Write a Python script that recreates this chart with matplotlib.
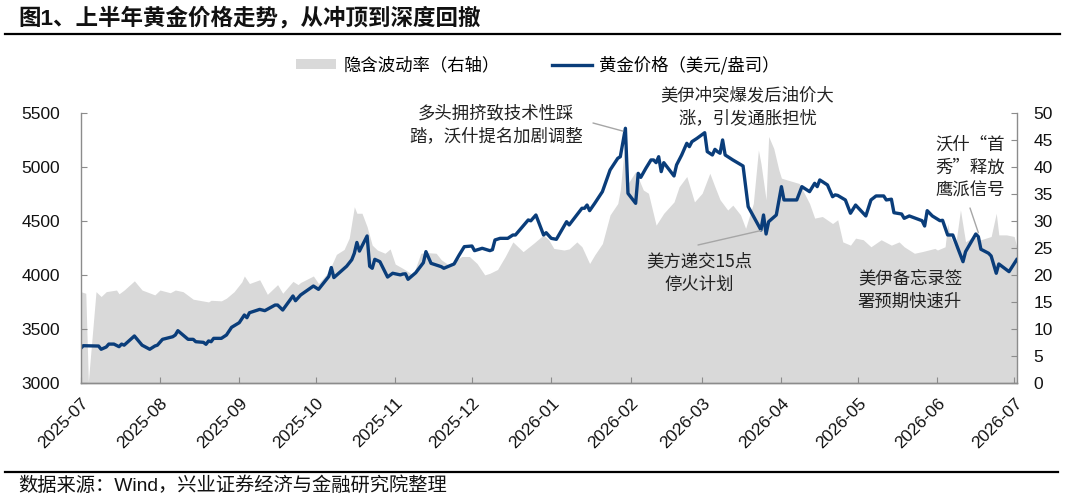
import matplotlib
matplotlib.use("Agg")
import matplotlib.pyplot as plt
import matplotlib.dates as mdates
from matplotlib.lines import Line2D
from matplotlib.patches import Patch
from matplotlib.font_manager import FontProperties
import pandas as pd

plt.rcParams['font.family'] = ['Liberation Sans', 'Noto Sans CJK SC', 'DejaVu Sans']

# 黄金价格（美元/盎司）
gold_dates = [
    "2025-07-01", "2025-07-02", "2025-07-08", "2025-07-09", "2025-07-11", "2025-07-12",
    "2025-07-14", "2025-07-16", "2025-07-17", "2025-07-18", "2025-07-22", "2025-07-25",
    "2025-07-28", "2025-07-30", "2025-07-31", "2025-08-02", "2025-08-06", "2025-08-07",
    "2025-08-08", "2025-08-12", "2025-08-14", "2025-08-15", "2025-08-18", "2025-08-19",
    "2025-08-20", "2025-08-21", "2025-08-22", "2025-08-25", "2025-08-27", "2025-08-29",
    "2025-09-01", "2025-09-03", "2025-09-04", "2025-09-05", "2025-09-09", "2025-09-11",
    "2025-09-15", "2025-09-16", "2025-09-18", "2025-09-22", "2025-09-23", "2025-09-25",
    "2025-09-30", "2025-10-02", "2025-10-06", "2025-10-07", "2025-10-08", "2025-10-13",
    "2025-10-15", "2025-10-16", "2025-10-17", "2025-10-18", "2025-10-21", "2025-10-22",
    "2025-10-23", "2025-10-24", "2025-10-26", "2025-10-29", "2025-10-31", "2025-11-03",
    "2025-11-04", "2025-11-05", "2025-11-06", "2025-11-08", "2025-11-09", "2025-11-12",
    "2025-11-13", "2025-11-15", "2025-11-19", "2025-11-20", "2025-11-24", "2025-11-26",
    "2025-11-28", "2025-12-01", "2025-12-02", "2025-12-05", "2025-12-08", "2025-12-09",
    "2025-12-10", "2025-12-12", "2025-12-15", "2025-12-17", "2025-12-18", "2025-12-23",
    "2025-12-24", "2025-12-26", "2025-12-29", "2025-12-30", "2026-01-01", "2026-01-03",
    "2026-01-07", "2026-01-08", "2026-01-10", "2026-01-13", "2026-01-14", "2026-01-15",
    "2026-01-16", "2026-01-18", "2026-01-21", "2026-01-24", "2026-01-27", "2026-01-28",
    "2026-01-30", "2026-01-31", "2026-02-03", "2026-02-04", "2026-02-05", "2026-02-07",
    "2026-02-09", "2026-02-10", "2026-02-11", "2026-02-12", "2026-02-13", "2026-02-14",
    "2026-02-18", "2026-02-19", "2026-02-21", "2026-02-23", "2026-02-24", "2026-02-25",
    "2026-02-27", "2026-03-02", "2026-03-03", "2026-03-05", "2026-03-06", "2026-03-07",
    "2026-03-08", "2026-03-09", "2026-03-10", "2026-03-13", "2026-03-17", "2026-03-19",
    "2026-03-21", "2026-03-24", "2026-03-25", "2026-03-26", "2026-03-27", "2026-03-30",
    "2026-04-01", "2026-04-02", "2026-04-07", "2026-04-09", "2026-04-12", "2026-04-14",
    "2026-04-15", "2026-04-16", "2026-04-19", "2026-04-21", "2026-04-22", "2026-04-23",
    "2026-04-26", "2026-04-28", "2026-04-30", "2026-05-04", "2026-05-06", "2026-05-08",
    "2026-05-11", "2026-05-12", "2026-05-14", "2026-05-15", "2026-05-18", "2026-05-19",
    "2026-05-21", "2026-05-26", "2026-05-27", "2026-05-28", "2026-05-30", "2026-06-02",
    "2026-06-03", "2026-06-05", "2026-06-07", "2026-06-09", "2026-06-11", "2026-06-12",
    "2026-06-16", "2026-06-17", "2026-06-18", "2026-06-21", "2026-06-22", "2026-06-24",
    "2026-06-25", "2026-06-29", "2026-07-02",
]
gold_price = [
    3320, 3345, 3342, 3312, 3333, 3360,
    3360, 3336, 3360, 3350, 3435, 3350,
    3312, 3342, 3350, 3404, 3428, 3444,
    3484, 3404, 3404, 3382, 3376, 3358,
    3389, 3382, 3413, 3413, 3444, 3515,
    3558, 3629, 3604, 3650, 3681, 3669,
    3721, 3721, 3675, 3805, 3761, 3814,
    3897, 3866, 3985, 4068, 3975, 4080,
    4140, 4200, 4300, 4220, 4360, 4080,
    4061, 4144, 4122, 3980, 4015, 4000,
    4008, 4010, 3959, 3999, 4020, 4113,
    4215, 4107, 4076, 4061, 4101, 4184,
    4261, 4267, 4224, 4246, 4224, 4233,
    4323, 4338, 4338, 4369, 4369, 4508,
    4500, 4554, 4369, 4390, 4338, 4329,
    4492, 4462, 4523, 4616, 4616, 4646,
    4594, 4662, 4770, 4970, 5078, 5093,
    5356, 4754, 4662, 4939, 4902, 4986,
    5063, 5063, 5038, 5093, 4955, 5038,
    4915, 5017, 5109, 5217, 5186, 5232,
    5263, 5315, 5140, 5109, 5161, 5140,
    5125, 5248, 5109, 5063, 5007, 4631,
    4545, 4415, 4554, 4378, 4492, 4554,
    4816, 4693, 4693, 4816, 4770, 4847,
    4816, 4878, 4832, 4723, 4740, 4735,
    4693, 4570, 4646, 4545, 4693, 4730,
    4730, 4693, 4700, 4575, 4563, 4523,
    4545, 4501, 4452, 4594, 4545, 4501,
    4505, 4369, 4369, 4246, 4122, 4215,
    4378, 4353, 4237, 4200, 4175, 4015,
    4101, 4030, 4141,
]

# 隐含波动率（右轴）
vol_dates = [
    "2025-07-01", "2025-07-03", "2025-07-04", "2025-07-07", "2025-07-09", "2025-07-11",
    "2025-07-15", "2025-07-16", "2025-07-18", "2025-07-22", "2025-07-25", "2025-07-30",
    "2025-08-01", "2025-08-05", "2025-08-07", "2025-08-10", "2025-08-14", "2025-08-20",
    "2025-08-21", "2025-08-25", "2025-08-27", "2025-08-30", "2025-09-02", "2025-09-03",
    "2025-09-05", "2025-09-09", "2025-09-12", "2025-09-16", "2025-09-18", "2025-09-22",
    "2025-09-24", "2025-09-25", "2025-09-30", "2025-10-02", "2025-10-06", "2025-10-09",
    "2025-10-12", "2025-10-14", "2025-10-16", "2025-10-17", "2025-10-19", "2025-10-21",
    "2025-10-23", "2025-10-25", "2025-10-28", "2025-10-30", "2025-11-01", "2025-11-04",
    "2025-11-08", "2025-11-11", "2025-11-14", "2025-11-17", "2025-11-19", "2025-11-22",
    "2025-11-27", "2025-11-30", "2025-12-03", "2025-12-06", "2025-12-08", "2025-12-11",
    "2025-12-14", "2025-12-17", "2025-12-21", "2025-12-25", "2025-12-29", "2025-12-31",
    "2026-01-02", "2026-01-06", "2026-01-08", "2026-01-11", "2026-01-13", "2026-01-16",
    "2026-01-18", "2026-01-21", "2026-01-24", "2026-01-27", "2026-01-28", "2026-01-30",
    "2026-01-31", "2026-02-03", "2026-02-06", "2026-02-08", "2026-02-11", "2026-02-14",
    "2026-02-18", "2026-02-20", "2026-02-23", "2026-02-26", "2026-03-01", "2026-03-04",
    "2026-03-06", "2026-03-08", "2026-03-11", "2026-03-13", "2026-03-16", "2026-03-18",
    "2026-03-21", "2026-03-23", "2026-03-24", "2026-03-26", "2026-03-27", "2026-03-29",
    "2026-03-31", "2026-04-01", "2026-04-03", "2026-04-08", "2026-04-12", "2026-04-14",
    "2026-04-17", "2026-04-21", "2026-04-23", "2026-04-25", "2026-04-28", "2026-04-30",
    "2026-05-03", "2026-05-06", "2026-05-10", "2026-05-14", "2026-05-17", "2026-05-19",
    "2026-05-23", "2026-05-26", "2026-05-31", "2026-06-01", "2026-06-04", "2026-06-05",
    "2026-06-06", "2026-06-08", "2026-06-10", "2026-06-12", "2026-06-15", "2026-06-18",
    "2026-06-22", "2026-06-24", "2026-06-25", "2026-06-28", "2026-07-01", "2026-07-02",
]
vol_value = [
    16.9, 16.6, 0.3, 16.9, 16.0, 16.9,
    17.2, 16.5, 17.2, 18.9, 17.2, 16.3,
    17.2, 16.7, 17.2, 16.9, 15.5, 15.0,
    15.3, 15.2, 15.7, 16.9, 18.7, 19.8,
    18.4, 19.1, 16.4, 18.2, 16.6, 18.8,
    18.2, 18.6, 19.8, 18.4, 20.6, 23.8,
    24.7, 26.8, 32.6, 31.4, 31.4, 28.9,
    25.5, 24.6, 24.0, 24.8, 22.0, 21.2,
    20.0, 24.0, 24.1, 24.0, 22.8, 21.8,
    23.4, 23.4, 22.1, 20.0, 20.3, 21.0,
    23.4, 26.1, 24.3, 25.8, 27.4, 26.5,
    24.9, 24.6, 24.8, 26.1, 25.2, 22.1,
    23.7, 25.8, 31.1, 33.2, 35.7, 45.6,
    36.9, 39.1, 35.7, 35.1, 29.2, 31.4,
    33.5, 36.3, 38.2, 33.5, 35.1, 38.8,
    36.3, 33.9, 32.0, 32.9, 31.1, 28.6,
    33.2, 43.1, 40.6, 33.9, 45.6, 43.4,
    39.4, 37.9, 37.6, 36.9, 33.2, 30.5,
    30.8, 29.5, 30.2, 26.1, 25.5, 26.8,
    26.5, 25.2, 26.5, 25.5, 26.1, 25.2,
    24.0, 24.3, 24.9, 24.6, 25.2, 29.5,
    27.1, 25.2, 32.0, 26.1, 27.1, 26.5,
    27.1, 31.4, 27.4, 27.4, 27.1, 25.2,
]

month_ticks = ["2025-07-01", "2025-08-01", "2025-09-01", "2025-10-01", "2025-11-01",
               "2025-12-01", "2026-01-01", "2026-02-01", "2026-03-01", "2026-04-01",
               "2026-05-01", "2026-06-01", "2026-07-01"]

gold_x = pd.to_datetime(gold_dates)
vol_x = pd.to_datetime(vol_dates)

BLUE = "#0A3D7A"
GRAY_FILL = "#D9D9D9"
SPINE = "#8C8C8C"
cjk = ['Noto Sans CJK SC', 'DejaVu Sans']

fig = plt.figure(figsize=(10.8, 4.98), dpi=100)
ax = fig.add_axes([0.0747, 0.2309, 0.8667, 0.5428])
ax2 = ax.twinx()

ax2.fill_between(vol_x, 0, vol_value, color=GRAY_FILL, lw=0)
ax2.set_ylim(0, 50)
ax2.set_yticks(range(0, 51, 5))

ax.plot(gold_x, gold_price, color=BLUE, lw=2.4, solid_joinstyle='round')
ax.set_ylim(3000, 5500)
ax.set_yticks(range(3000, 5501, 500))
ax.set_xlim(pd.Timestamp("2025-07-01"), pd.Timestamp("2026-07-02"))
ax.set_zorder(ax2.get_zorder() + 1)
ax.patch.set_visible(False)

ax.set_xticks(pd.to_datetime(month_ticks))
ax.xaxis.set_major_formatter(mdates.DateFormatter('%Y-%m'))

for a in (ax, ax2):
    a.spines['top'].set_visible(False)
    for s in ('left', 'right', 'bottom'):
        a.spines[s].set_color(SPINE)
        a.spines[s].set_linewidth(1)
    a.tick_params(direction='in', length=4, color=SPINE, labelsize=12.5, labelcolor='#111111')
ax.spines['right'].set_visible(False)
ax2.spines['left'].set_visible(False)
ax.tick_params(axis='y', pad=15)
ax2.tick_params(axis='y', pad=12)
ax.tick_params(axis='x', pad=9, labelsize=12.5)
plt.setp(ax.get_xticklabels(), rotation=45, ha='right', va='top', rotation_mode='anchor')

# legend
handles = [Patch(facecolor=GRAY_FILL, edgecolor='none'), Line2D([], [], color=BLUE, lw=2.4)]
fig.legend(handles, ["隐含波动率（右轴）", "黄金价格（美元/盎司）"], loc='center',
           bbox_to_anchor=(0.498, 0.869), ncol=2, frameon=False, handlelength=2.3,
           handleheight=0.5, columnspacing=3.0, handletextpad=0.4,
           prop=FontProperties(family=cjk, size=12.5))

# annotations
def fx(px):
    return px / 1080


def fy(py):
    return 1 - py / 498


note = dict(family=cjk, size=12.5, color='#222222', linespacing=1.35)
fig.text(fx(496), fy(125), "多头拥挤致技术性踩\n踏，沃什提名加剧调整", ha='center', va='center', **note)
fig.text(fx(747.5), fy(107), "美伊冲突爆发后油价大\n涨，引发通胀担忧", ha='center', va='center', **note)
fig.text(fx(699), fy(273), "美方递交15点\n停火计划", ha='center', va='center', **note)
fig.text(fx(935), fy(168), "沃什“首\n秀”释放\n鹰派信号", ha='left', va='center', **note)
fig.text(fx(910), fy(290), "美伊备忘录签\n署预期快速升", ha='center', va='center', **note)

conn = dict(arrowstyle='-', color='#A6A6A6', lw=1, shrinkA=0, shrinkB=0)
ax.annotate('', xy=(pd.Timestamp("2026-01-29"), 5330), xytext=(fx(593), fy(123)),
            textcoords='figure fraction', arrowprops=conn)
ax.annotate('', xy=(pd.Timestamp("2026-03-24"), 4410), xytext=(fx(698), fy(245)),
            textcoords='figure fraction', arrowprops=conn)
ax.annotate('', xy=(pd.Timestamp("2026-06-17"), 4390), xytext=(fx(970), fy(208)),
            textcoords='figure fraction', arrowprops=conn)

# title, rules, source
fig.text(fx(18), fy(18), "图1、上半年黄金价格走势，从冲顶到深度回撤", ha='left', va='center',
         size=16.2, weight='bold', color='#111111')
fig.add_artist(Line2D([fx(5), fx(1060)], [fy(34), fy(34)], color='black', lw=1.6))
fig.add_artist(Line2D([fx(5), fx(1058)], [fy(472), fy(472)], color='black', lw=1.6))
fig.text(fx(18), fy(486), "数据来源：Wind，兴业证券经济与金融研究院整理", ha='left', va='center',
         size=13.9, color='#111111')

fig.savefig("out.png", dpi=100)
